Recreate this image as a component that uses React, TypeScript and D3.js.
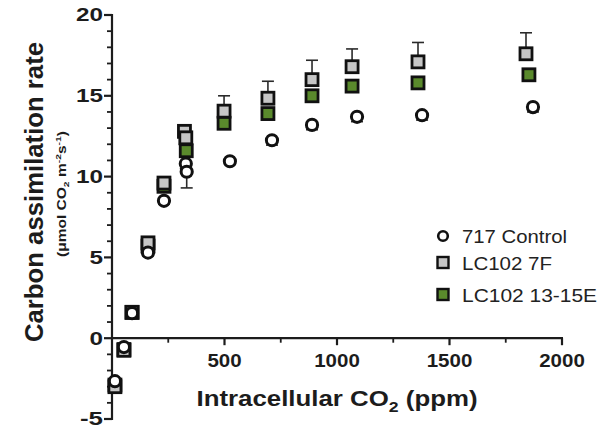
import React from 'react'
import * as d3 from 'd3'

// 717 Control (open circles)
const ctrlX = [13, 53, 89, 160, 231, 328, 332, 524, 711, 889, 1089, 1378, 1871]
const ctrlY = [-2.66, -0.55, 1.55, 5.3, 8.5, 10.8, 10.3, 10.95, 12.25, 13.2, 13.7, 13.8, 14.3]
const ctrlErr = [0.2, 0.2, 0.2, 0.2, 0.2, 0.3, 1.0, 0.2, 0.3, 0.3, 0.3, 0.3, 0.3]

// LC102 7F (grey squares)
const greyX = [13, 53, 89, 160, 231, 322, 328, 498, 693, 889, 1067, 1360, 1840]
const greyY = [-3.0, -0.75, 1.6, 5.9, 9.6, 12.8, 12.4, 14.05, 14.85, 16.0, 16.8, 17.1, 17.6]
const greyErr = [0.2, 0.2, 0.2, 0.2, 0.2, 0.4, 0.3, 0.95, 1.05, 1.2, 1.1, 1.2, 1.3]

// LC102 13-15E (green squares)
const greenX = [13, 53, 89, 160, 231, 330, 498, 693, 889, 1067, 1360, 1853]
const greenY = [-2.9, -0.7, 1.6, 5.7, 9.4, 11.6, 13.3, 13.9, 15.0, 15.6, 15.8, 16.3]

const xMajor = [500, 1000, 1500, 2000]
const yMajor = [-5, 0, 5, 10, 15, 20]

const legendNames = ['717 Control', 'LC102 7F', 'LC102 13-15E']

const W = 613
const H = 429
const GREY = '#c6c6c6'
const GREEN = '#5a8a2c'
const INK = '#1c1c1c'
const FONT = 'Liberation Sans, Arial, Helvetica, sans-serif'

const App = () => {
    const x = d3.scaleLinear().domain([0, 2000]).range([112, 562])
    const y = d3.scaleLinear().domain([-5, 20]).range([419, 15])

    const xMinor = d3.range(250, 2001, 250)
    const yMinor = d3.range(-5, 21, 1)

    const sq = 12
    const r = 5.6

    return (
        <svg width={W} height={H} style={{ position: 'absolute', left: 0, top: 0, background: '#fff' }} fontFamily={FONT}>
            {/* axes */}
            <g stroke={INK} strokeWidth={2.2} fill="none">
                <line x1={x(0)} x2={x(0)} y1={y(20) - 1} y2={y(-5) + 1} />
                <line x1={x(0)} x2={x(2000) + 1} y1={y(0)} y2={y(0)} />
                {yMinor.map(v => (
                    <line key={'ym' + v} x1={x(0) - (v % 5 === 0 ? 8 : 5)} x2={x(0)} y1={y(v)} y2={y(v)}
                        strokeWidth={v % 5 === 0 ? 2.2 : 1.8} />
                ))}
                {xMinor.map(v => (
                    <line key={'xm' + v} x1={x(v)} x2={x(v)} y1={y(0)} y2={y(0) + (v % 500 === 0 ? 7 : 4.5)}
                        strokeWidth={v % 500 === 0 ? 2.2 : 1.8} />
                ))}
            </g>

            {/* tick labels */}
            <g fill={INK} fontWeight="bold" fontSize={18}>
                {yMajor.map(v => (
                    <text key={'yl' + v} x={103} y={y(v)} dy="0.36em" textAnchor="end"
                        textLength={String(v).length * 13.5 - (v < 0 ? 4 : 0)} lengthAdjust="spacingAndGlyphs">{v}</text>
                ))}
                {xMajor.map(v => (
                    <text key={'xl' + v} x={x(v)} y={367} textAnchor="middle"
                        textLength={String(v).length * 11.4} lengthAdjust="spacingAndGlyphs">{v}</text>
                ))}
            </g>

            {/* axis titles */}
            <text x={337} y={406} textAnchor="middle" fontWeight="bold" fontSize={22} fill={INK}
                textLength={281} lengthAdjust="spacingAndGlyphs">
                Intracellular CO<tspan fontSize={15} dy={6}>2</tspan><tspan dy={-6}> (ppm)</tspan>
            </text>
            <text transform="translate(43,192) rotate(-90)" textAnchor="middle" fontWeight="bold" fontSize={26}
                fill={INK} textLength={300} lengthAdjust="spacingAndGlyphs">Carbon assimilation rate</text>
            <text transform="translate(66,194) rotate(-90)" textAnchor="middle" fontWeight="bold" fontSize={12}
                fill={INK} textLength={126} lengthAdjust="spacingAndGlyphs">
                (μmol CO<tspan fontSize={8} dy={3}>2</tspan><tspan dy={-3}> m</tspan><tspan fontSize={8} dy={-5}>-2</tspan><tspan dy={5}>s</tspan><tspan fontSize={8} dy={-5}>-1</tspan><tspan dy={5}>)</tspan>
            </text>

            {/* error bars */}
            <g stroke="#2a2a2a" strokeWidth={1.6}>
                {greyX.map((v, i) => (
                    <g key={'ge' + i}>
                        <line x1={x(v)} x2={x(v)} y1={y(greyY[i])} y2={y(greyY[i] + greyErr[i])} />
                        <line x1={x(v) - 6} x2={x(v) + 6} y1={y(greyY[i] + greyErr[i])} y2={y(greyY[i] + greyErr[i])} />
                    </g>
                ))}
                {ctrlX.map((v, i) => (
                    <g key={'ce' + i}>
                        <line x1={x(v)} x2={x(v)} y1={y(ctrlY[i])} y2={y(ctrlY[i] - ctrlErr[i])} />
                        <line x1={x(v) - 6} x2={x(v) + 6} y1={y(ctrlY[i] - ctrlErr[i])} y2={y(ctrlY[i] - ctrlErr[i])} />
                    </g>
                ))}
            </g>

            {/* markers */}
            <g stroke="#111" strokeWidth={2.8}>
                {greenX.map((v, i) => (
                    <rect key={'gn' + i} x={x(v) - sq / 2} y={y(greenY[i]) - sq / 2} width={sq} height={sq} fill={GREEN} />
                ))}
                {greyX.map((v, i) => (
                    <rect key={'gr' + i} x={x(v) - sq / 2} y={y(greyY[i]) - sq / 2} width={sq} height={sq} fill={GREY} />
                ))}
                {ctrlX.map((v, i) => (
                    <circle key={'c' + i} cx={x(v)} cy={y(ctrlY[i])} r={r} fill="#fff" strokeWidth={3} />
                ))}
            </g>

            {/* legend */}
            <g>
                <circle cx={443} cy={236} r={4.8} fill="#fff" stroke="#111" strokeWidth={2.6} />
                <rect x={437.5} y={257} width={11} height={11} fill={GREY} stroke="#111" strokeWidth={2.4} />
                <rect x={437.5} y={289} width={11} height={11} fill={GREEN} stroke="#111" strokeWidth={2.4} />
                {legendNames.map((n, i) => (
                    <text key={n} x={462} y={[243, 270, 302][i]} fontSize={18} fill="#222"
                        textLength={[105, 90, 135][i]} lengthAdjust="spacingAndGlyphs">{n}</text>
                ))}
            </g>
        </svg>
    )
}

export default App
